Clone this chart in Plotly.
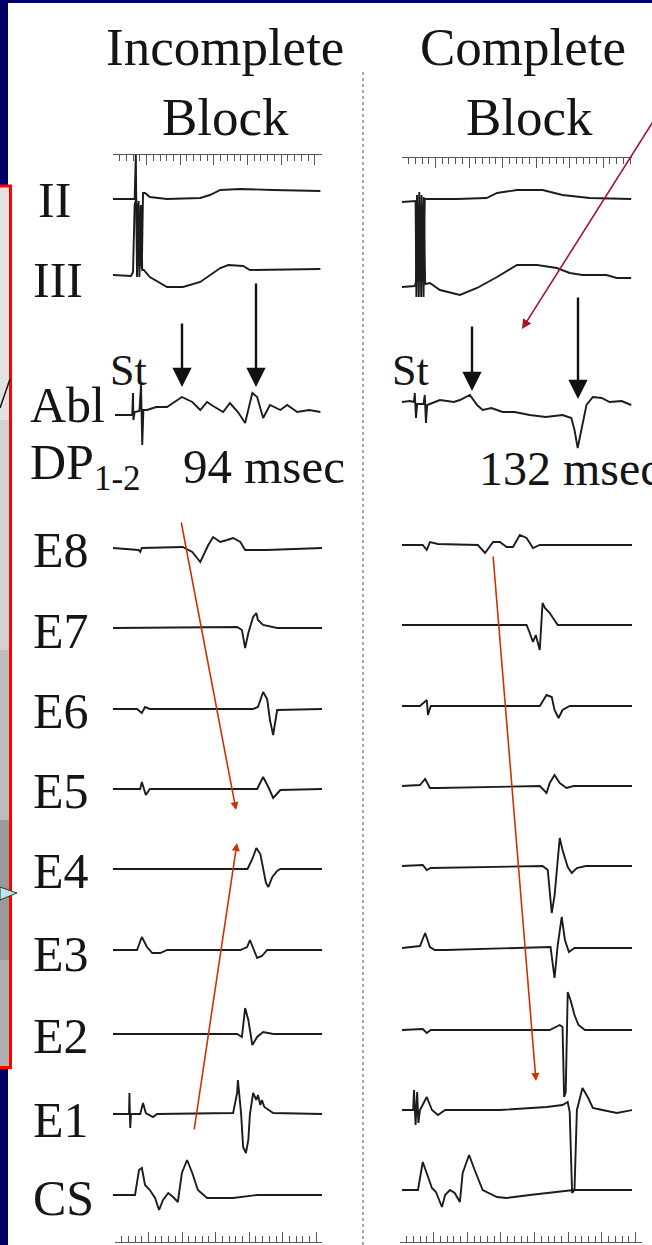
import plotly.graph_objects as go

W, H = 652, 1245

# ---------------- data: waveform keypoints (time units, amplitude units; + is up) ----------------
CHANNELS = ["II", "III", "Abl", "E8", "E7", "E6", "E5", "E4", "E3", "E2", "E1", "CS"]

# Incomplete block (left panel)
INC_II = [(0, 0), (27, 0), (28.5, 44), (30, -78), (31.5, -5), (33, -78), (34.5, -8), (36, -70), (37.5, 6),
          (40, 6), (46, 2), (67.5, 0), (109, 1), (121, 4), (134, 9), (159, 10), (200, 9), (259, 8)]
INC_III = [(0, 0), (22.5, -1), (25, 3), (27, 70), (29, 76), (30.5, 10), (32, 74), (33.5, 8), (35, 70),
           (36.5, 5), (38.5, 5), (46, -2), (67.5, -12), (87.5, -12), (109, -7), (121, 0), (134, 7), (144, 10),
           (162.5, 9), (171, 5), (259, 6)]
INC_ABL = [(2.5, -7), (24, -7), (25, 15), (25.5, -12), (27, -4), (33, -3), (35, 23), (36.5, -37), (38, -2),
           (42.5, -2), (54, 1), (67.5, 1), (86, 11), (99, 6), (109, -2), (117.5, 6), (125, 2), (137.5, -4),
           (146, 5), (156, -4), (165, -15), (174, 15), (180, 11), (187.5, -10), (196, 3), (209, -2),
           (217.5, 3), (230, -4), (245, -2), (259, -4)]
INC_E8 = [(0, 0), (32, -2), (34, -4), (36, 0), (87, 1), (99, -4), (109, -14), (119, 3), (125, 11), (134, 6),
          (142.5, 8), (150, 10), (159, 6), (165, -2), (192, -2), (261, 0)]
INC_E7 = [(0, 0), (155, 1), (161, -2), (165, -20), (169, -5), (175, 11), (179, 15), (181, 8), (187.5, 3),
          (205, 0), (261, 0)]
INC_E6 = [(0, 0), (30, 0), (36, -4), (40, 2), (46, 0), (175, 0), (181, 2), (187.5, 17), (192.5, 10),
          (196, -11), (200, -26), (205, -1), (261, 0)]
INC_E5 = [(0, 0), (34, 0), (36, 7), (41, -6), (46, 0), (180, 0), (187.5, 12), (194, 2), (200, -9), (209, -1),
          (261, 0)]
INC_E4 = [(0, 0), (168, 0), (174, 10), (179, 21), (184, 15), (187.5, 2), (191, -14), (194, -18), (199, -8),
          (205, -2), (209, 0), (261, 0)]
INC_E3 = [(0, 0), (30, 0), (36, 13), (42.5, 3), (49, -3), (59, -3), (67.5, 0), (159, 0), (167.5, 3), (171, 10),
          (175, 2), (180, -8), (186, -6), (192.5, 0), (261, 0)]
INC_E2 = [(0, 0), (155, 0), (161, -3), (165, 26), (169, 14), (174, -11), (180, -3), (187.5, 2), (200, 0),
          (261, 0)]
INC_E1 = [(0, 0), (20, 0), (20.5, 21), (21.5, -14), (22.5, 0), (34, 0), (37.5, 11), (41, 1), (50, -3), (55, 0),
          (150, 1), (155, 21), (156, 34), (160, 0), (162.5, -33), (166, -39), (169, -26), (171, 0), (175, 21),
          (179, 14), (181, 19), (184, 9), (186, 14), (189, 7), (200, 1), (261, 0)]
INC_CS = [(0, 0), (27.5, 0), (32.5, 25), (36, 27), (40, 10), (46, 5), (52.5, -3), (57.5, -15), (62.5, -5),
          (69, 2), (75, -2), (81, -7), (86, 22), (92.5, 35), (99, 22), (106, 5), (117.5, -3), (150, -3),
          (180, 0), (261, 0)]

# Complete block (right panel)
COMP_II = [(0, -2), (17, -1), (18, -97), (19.5, -5), (21, -97), (22.5, -5), (24, -97), (25.5, -5),
           (27, -97), (28.5, 1), (32, 1), (69, 1), (106, 2), (119, 7), (144, 10), (176, 10), (201, 5),
           (235, 2), (287, 1)]
COMP_III = [(0, 0), (16, 1), (17.5, 5), (18.8, 92), (20.2, 5), (21.6, 95), (23, 5), (24.4, 92), (25.8, 5),
            (27.2, 90), (29, 3), (35, 4), (47.5, -3), (72.5, -8), (94, -1), (119, 10), (144, 22), (169, 22),
            (194, 19), (210, 14), (226, 12), (256, 12), (269, 9), (287, 9)]
COMP_ABL = [(0, 0), (10, 1), (15, 0), (16, 9), (17.5, -16), (19, -2), (27, -2), (28.5, 7), (30, -21),
            (31.5, -3), (47.5, 2), (65, 0), (72.5, 2), (81, 5), (85, 7), (94, -3), (101, -8), (112, -6),
            (126, -10), (141, -10), (160, -13), (180, -15), (201, -13), (212, -16), (216, -28), (220, -46),
            (225, -28), (231, -3), (239, 5), (250, 4), (260, 0), (275, 1), (287, -3)]
COMP_E8 = [(0, 0), (26, 0), (31, -5), (35, 3), (45, 1), (95, 0), (104, -8), (114, 3), (122.5, 3), (131, -2),
           (139, -2), (147.5, 10), (156, 7), (164, -3), (172.5, 0), (289, 0)]
COMP_E7 = [(0, 0), (156, 0), (160, -8), (164, -17), (167.5, -10), (172.5, -25), (176, 22), (179, 17), (185, 12),
           (195, 0), (289, 0)]
COMP_E6 = [(0, 0), (22.5, 0), (31, 6), (32.5, -9), (36, 0), (172.5, 0), (181, 11), (187.5, 9), (191, -4),
           (196, -12), (201, -4), (210, 0), (289, 0)]
COMP_E5 = [(0, 0), (22.5, 1), (29, 7), (35, -2), (45, -2), (172.5, 0), (181, -7), (185, 3), (191, 11),
           (197.5, 3), (206, -2), (215, 0), (289, 0)]
COMP_E4 = [(0, 0), (26, 1), (31, -4), (36, -2), (176, 0), (182.5, -4), (187.5, -47), (191, -30), (197.5, 28),
           (201, 16), (207.5, -1), (212.5, -7), (219, -2), (230, 0), (289, 0)]
COMP_E3 = [(0, 0), (22.5, 2), (29, 15), (35, 1), (41, -2), (55, -2), (186, 1), (191, -30), (195, 3), (200, 31),
           (204, 8), (209, -4), (216, 0), (289, 0)]
COMP_E2 = [(0, 0), (26, 1), (31, -3), (36, 0), (185, 0), (197.5, 5), (201, 3), (203, -67), (205, -62),
           (207.5, 38), (211, 30), (216, 15), (221, 5), (229, 0), (289, 0)]
COMP_E1 = [(0, 0), (14, 0), (15, 20), (17, -15), (19, 18), (20.5, -13), (22.5, 0), (31, 13), (37.5, 0),
           (45, -5), (54, 0), (122.5, 0), (181, 3), (201, 5), (207.5, 8), (210, -2), (213, -83), (216, -80),
           (219, 0), (226, 22), (232.5, 13), (239, 2), (251, 0), (269, -3), (289, 0)]
COMP_CS = [(0, 0), (20, 0), (26, 28), (31, 17), (37.5, 2), (42.5, -2), (50, -17), (54, -5), (60, 0), (66, -3),
           (72.5, -12), (76, 17), (84, 35), (91, 20), (101, 0), (119, -7), (131, -8), (160, -5), (197.5, -2),
           (215, 0), (289, 0)]

TITLE_LEFT = ["Incomplete", "Block"]
TITLE_RIGHT = ["Complete", "Block"]
ROW_LABELS = ["II", "III", "Abl", "DP<sub>1-2</sub>", "E8", "E7", "E6", "E5", "E4", "E3", "E2", "E1", "CS"]
STIM_LABEL = "St"
INTERVALS = ["94 msec", "132 msec"]

# ---------------- layout constants ----------------
INC_WAVES = [INC_II, INC_III, INC_ABL, INC_E8, INC_E7, INC_E6, INC_E5, INC_E4, INC_E3, INC_E2, INC_E1, INC_CS]
COMP_WAVES = [COMP_II, COMP_III, COMP_ABL, COMP_E8, COMP_E7, COMP_E6, COMP_E5, COMP_E4, COMP_E3, COMP_E2,
              COMP_E1, COMP_CS]
INC_BASE = [199, 275, 408, 548, 628, 709, 789, 869, 950, 1034, 1114, 1195]
COMP_BASE = [200, 287, 402, 545, 625, 706, 786, 866, 948, 1030, 1110, 1190]
LABEL_Y = [200, 280, 405, 466, 550, 631, 711, 791, 871, 954, 1036, 1120, 1198]
LABEL_X = [38, 33, 30, 30, 33, 33, 33, 33, 33, 33, 33, 33, 33]

INK = "#1c1c1c"
RULER = "#555555"
NAVY = "#000066"
SERIF = "Liberation Serif, Times New Roman, serif"

fig = go.Figure()


def add_wave(pts, base, xa):
    fig.add_trace(go.Scatter(
        x=[p[0] for p in pts], y=[base - p[1] for p in pts], mode="lines",
        line=dict(color=INK, width=1.9), xaxis=xa, yaxis="y",
        hoverinfo="skip", showlegend=False))


for pts, base in zip(INC_WAVES, INC_BASE):
    add_wave(pts, base, "x")
for pts, base in zip(COMP_WAVES, COMP_BASE):
    add_wave(pts, base, "x2")

# empty traces so that the bottom-ruler axes and the pixel canvas axis are created
for xa in ("x3", "x4", "x5"):
    fig.add_trace(go.Scatter(x=[None], y=[None], xaxis=xa, yaxis="y", mode="lines",
                             hoverinfo="skip", showlegend=False))


def ruler(domain, rng, ypix, side):
    return dict(domain=domain, range=rng, anchor="free", position=1 - ypix / H, side=side,
                showline=True, linecolor=RULER, linewidth=1.2, ticks="inside", tickcolor=RULER,
                tickwidth=1, ticklen=10, tick0=0, dtick=42, showticklabels=False, showgrid=False,
                zeroline=False, fixedrange=True,
                minor=dict(ticks="inside", ticklen=6, dtick=8.4, tickcolor=RULER, tickwidth=1,
                           showgrid=False))


fig.update_layout(
    width=W, height=H, margin=dict(l=0, r=0, t=0, b=0),
    paper_bgcolor="white", plot_bgcolor="rgba(0,0,0,0)",
    xaxis=ruler([113 / W, 322 / W], [0, 261], 154, "top"),
    xaxis2=ruler([402 / W, 632 / W], [0, 288], 157, "top"),
    xaxis3=ruler([115 / W, 322 / W], [0, 259], 1242, "bottom"),
    xaxis4=ruler([400 / W, 642 / W], [0, 302], 1242, "bottom"),
    xaxis5=dict(domain=[0, 1], range=[0, W], anchor="y", visible=False, fixedrange=True),
    yaxis=dict(domain=[0, 1], range=[H, 0], visible=False, fixedrange=True),
)

# ---------------- decorations (pixel canvas: x5 / y) ----------------
shapes = []


def rect(x0, y0, x1, y1, color):
    shapes.append(dict(type="rect", xref="x5", yref="y", x0=x0, y0=y0, x1=x1, y1=y1,
                       fillcolor=color, line=dict(width=0), layer="above"))


def seg(x0, y0, x1, y1, color, width, dash="solid"):
    shapes.append(dict(type="line", xref="x5", yref="y", x0=x0, y0=y0, x1=x1, y1=y1,
                       line=dict(color=color, width=width, dash=dash), layer="above"))


rect(0, 0, W, 3, NAVY)
rect(0, 0, 8, 186, NAVY)
rect(0, 1068, 8, H, NAVY)
rect(0, 186, 10, 420, "#e2e2e2")
rect(0, 420, 10, 650, "#d2d2d2")
rect(0, 650, 10, 820, "#bcbcbc")
rect(0, 820, 10, 960, "#9a9a9a")
rect(0, 960, 10, 1068, "#b0b0b0")
seg(10.5, 185, 10.5, 1069, "#ff0000", 3)
seg(0, 186, 12, 186, "#ff0000", 3)
seg(0, 1067.5, 12, 1067.5, "#ff0000", 3)
seg(0, 408, 10, 379, "#111111", 1.5)
shapes.append(dict(type="path", xref="x5", yref="y", path="M 0 887 L 17 893 L 0 900 Z",
                   fillcolor="#bfe3ea", line=dict(color="#333333", width=1), layer="above"))
seg(363, 72, 363, H, "#8c8c8c", 1.5, "dot")
fig.update_layout(shapes=shapes)

# ---------------- text ----------------
ann = []


def text(s, x, y, size, anchor="center"):
    ann.append(dict(text=s, x=x, y=y, xref="x5", yref="y", xanchor=anchor, yanchor="middle",
                    showarrow=False, font=dict(family=SERIF, size=size, color="#151515")))


text(TITLE_LEFT[0], 225, 47, 53)
text(TITLE_LEFT[1], 225, 117, 53)
text(TITLE_RIGHT[0], 523, 47, 53)
text(TITLE_RIGHT[1], 529, 117, 53)
for lab, lx, ly in zip(ROW_LABELS, LABEL_X, LABEL_Y):
    text(lab, lx - 2, ly, 50, "left")
text(STIM_LABEL, 108, 370, 44, "left")
text(STIM_LABEL, 390, 370, 44, "left")
text(INTERVALS[0], 181, 466, 49, "left")
text(INTERVALS[1], 477, 468, 48, "left")


def arrow(tip, tail, color, width, size):
    ann.append(dict(text="", x=tip[0], y=tip[1], ax=tail[0], ay=tail[1], xref="x5", yref="y",
                    axref="x5", ayref="y", showarrow=True, arrowhead=2, arrowsize=size,
                    arrowwidth=width, arrowcolor=color, standoff=0, startstandoff=0))


# measurement arrows on the ablation signal
arrow((182, 387), (182, 322), "#111111", 2.4, 1.6)
arrow((256, 387), (256, 282), "#111111", 2.4, 1.6)
arrow((472, 391), (472, 325), "#111111", 2.4, 1.6)
arrow((578, 399), (578, 296), "#111111", 2.4, 1.6)
# coloured overlay arrows
arrow((522, 329), (656, 117), "#a3162e", 1.6, 1.2)
arrow((236, 810), (181, 521), "#cc3300", 1.6, 1.0)
arrow((237, 843), (194, 1131), "#cc3300", 1.6, 1.0)
arrow((536, 1081), (493, 555), "#cc3300", 1.6, 1.0)

fig.update_layout(annotations=ann)

fig.write_html("out.html", config={"displayModeBar": False})
